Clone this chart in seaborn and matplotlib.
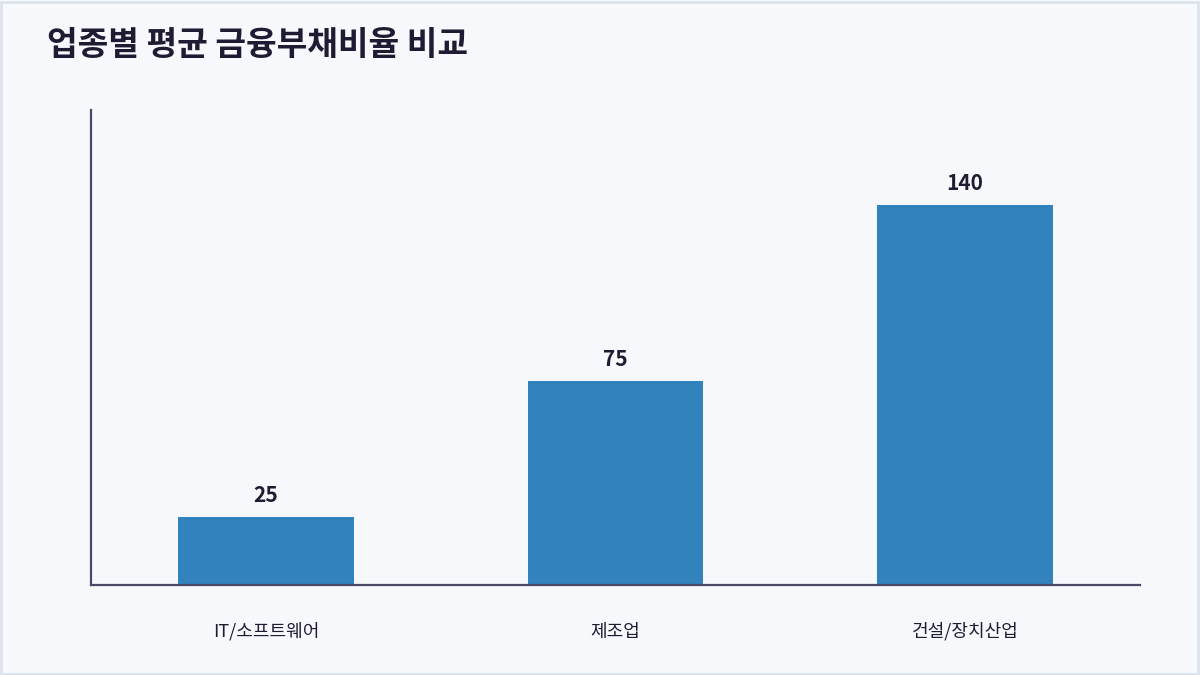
import matplotlib
matplotlib.use("Agg")
import matplotlib.pyplot as plt
import seaborn as sns
import pandas as pd
from matplotlib.patches import Rectangle

# data
industries = ["IT/소프트웨어", "제조업", "건설/장치산업"]
debt_ratio = [25, 75, 140]

bg = "#f7f8fc"
bar_color = "#3182bd"
text_color = "#1e1b33"
axis_color = "#4a4866"

sns.set_theme(style="white")
plt.rcParams["font.family"] = ["Noto Sans CJK KR", "DejaVu Sans"]

df = pd.DataFrame({"industry": industries, "ratio": debt_ratio})

fig = plt.figure(figsize=(12, 6.75), dpi=100, facecolor=bg)
ax = fig.add_axes([91 / 1200, 1 - 585 / 675, (1140 - 91) / 1200, (585 - 110) / 675])
ax.set_facecolor(bg)

sns.barplot(data=df, x="industry", y="ratio", color=bar_color, width=0.503,
            saturation=1, linewidth=0, ax=ax)

ax.set_xlim(-0.5, 2.5)
ax.set_ylim(0, 175)
ax.set_xlabel("")
ax.set_ylabel("")
ax.set_yticks([])
ax.tick_params(axis="x", length=0, pad=27, labelsize=13, colors=text_color)

for side in ["top", "right"]:
    ax.spines[side].set_visible(False)
for side in ["left", "bottom"]:
    ax.spines[side].set_color(axis_color)
    ax.spines[side].set_linewidth(1.6)

for container in ax.containers:
    ax.bar_label(container, padding=8, fontsize=15, fontweight="bold", color=text_color)

fig.text(47 / 1200, 1 - 45 / 675, "업종별 평균 금융부채비율 비교", fontsize=24,
         fontweight="bold", color=text_color, ha="left", va="center")

# figure border
fig.patches.append(Rectangle((0.001, 0.002), 0.997, 0.995, transform=fig.transFigure,
                             fill=False, edgecolor="#dde3ec", linewidth=2))

fig.savefig("out.png", dpi=100, facecolor=bg)
